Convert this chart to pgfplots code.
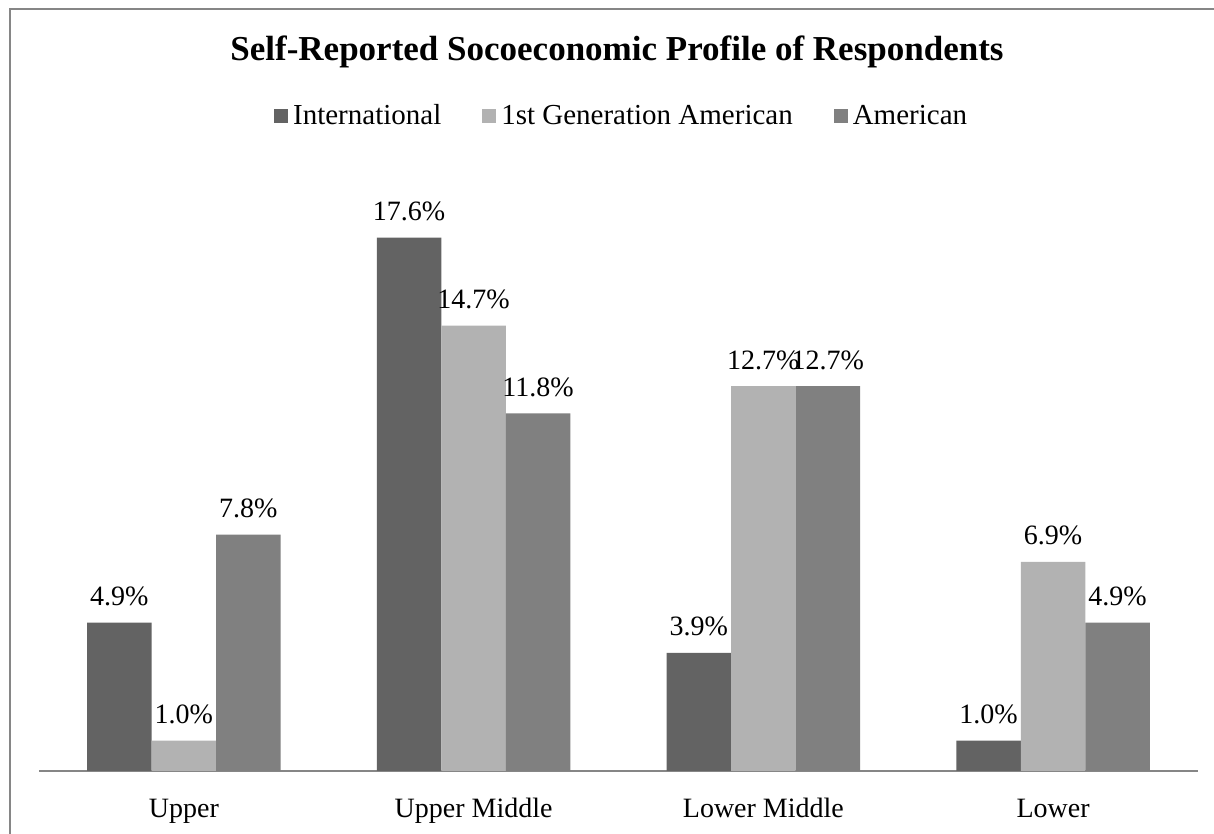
\documentclass[border=0pt]{standalone}
\usepackage{pgfplots}
\pgfplotsset{compat=1.18}
\usepackage{fontspec}
\setmainfont{Liberation Serif}
\definecolor{cIntl}{HTML}{636363}
\definecolor{cFirst}{HTML}{B2B2B2}
\definecolor{cAmer}{HTML}{808080}
\definecolor{cLine}{HTML}{868686}
\begin{document}
\begin{tikzpicture}[x=1bp,y=1bp]
\useasboundingbox (0,0) rectangle (1214,834);
\draw[cLine,line width=1.5bp] (10,0) -- (10,825) -- (1214,825);
\node[font=\fontsize{35bp}{40bp}\selectfont\bfseries,anchor=base] at (617,773) {Self-Reported Socoeconomic Profile of Respondents};
\begin{axis}[
  at={(39bp,63bp)}, anchor=south west,
  scale only axis, width=1159bp, height=606bp,
  ymin=0, ymax=20, xmin=-0.5, xmax=3.5,
  axis y line=none, axis x line*=bottom,
  x axis line style={cLine,line width=1.5bp,-},
  xtick={0,1,2,3},
  xticklabels={Upper,Upper Middle,Lower Middle,Lower},
  major tick length=0pt,
  xticklabel style={font=\fontsize{28bp}{33bp}\selectfont, anchor=base, yshift=-47bp},
  ybar=0pt, bar width=64.5bp,
  clip=false,
  /pgf/number format/assume math mode=true,
  nodes near coords={\pgfmathprintnumber[fixed,fixed zerofill,precision=1,assume math mode=true]{\pgfplotspointmeta}\%},
  every node near coord/.append style={font=\fontsize{28bp}{33bp}\selectfont, anchor=base, yshift=17bp, black},
  legend columns=3,
  legend style={at={(0.504,1.077)}, anchor=center, draw=none, fill=none,
    font=\fontsize{29bp}{34bp}\selectfont,
    nodes={inner xsep=5bp, text height=20bp, text depth=7bp},
    /tikz/every even column/.append style={column sep=36bp}},
  legend image code/.code={\fill[#1] (0bp,-5bp) rectangle (14bp,9bp);},
]
\addplot[fill=cIntl, draw=none] coordinates {(0,4.9) (1,17.6) (2,3.9) (3,1.0)};
\addplot[fill=cFirst, draw=none] coordinates {(0,1.0) (1,14.7) (2,12.7) (3,6.9)};
\addplot[fill=cAmer, draw=none] coordinates {(0,7.8) (1,11.8) (2,12.7) (3,4.9)};
\legend{International,1st Generation American,American}
\end{axis}
\end{tikzpicture}
\end{document}
